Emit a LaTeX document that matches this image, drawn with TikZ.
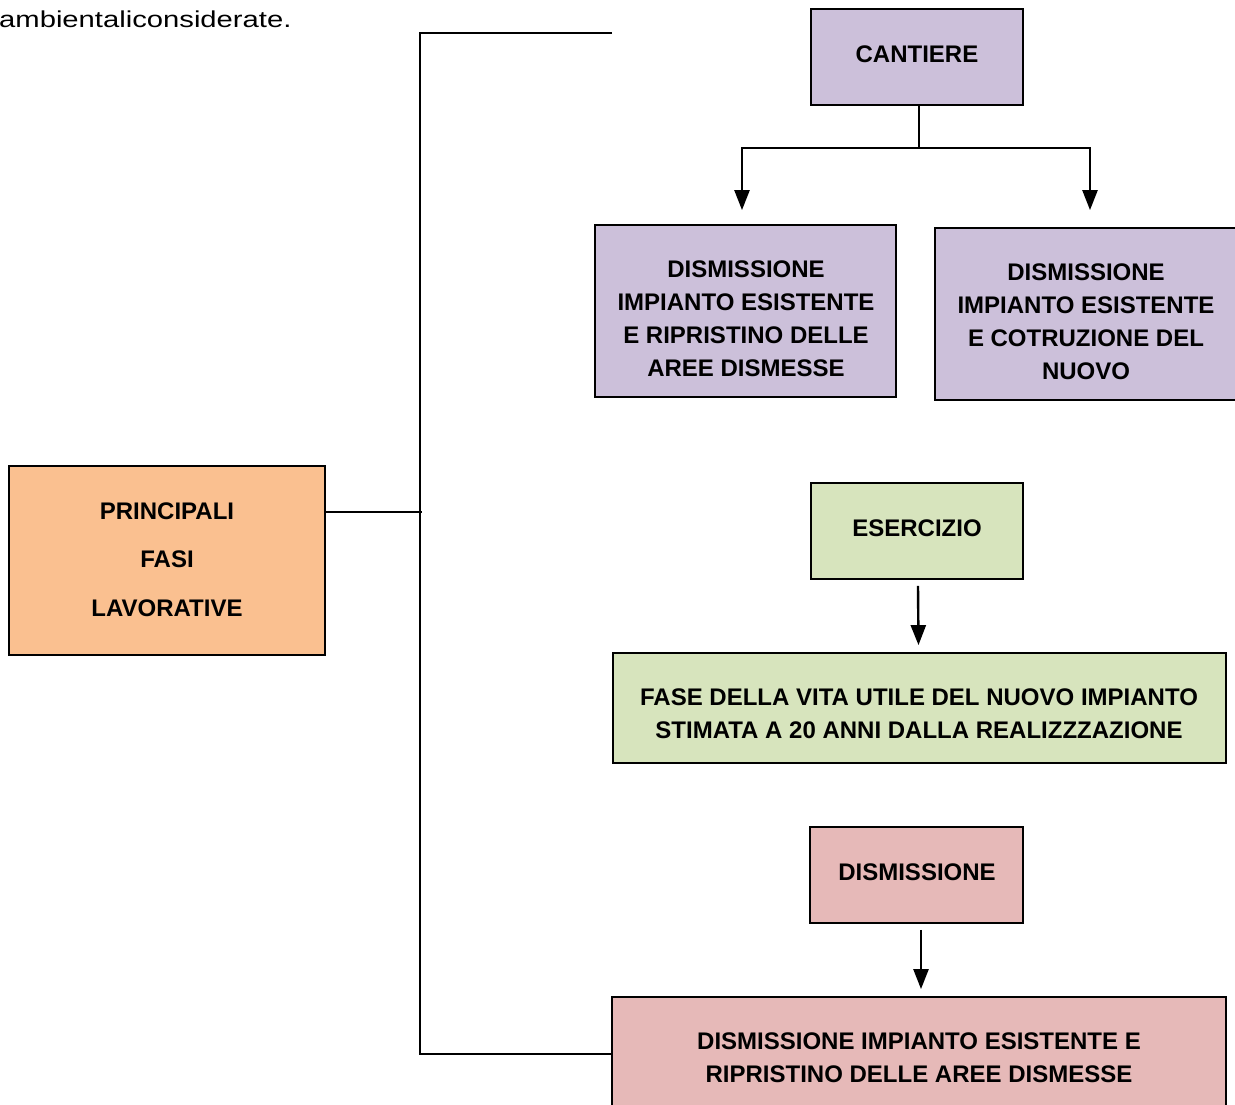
\documentclass[tikz,border=0pt]{standalone}
\usepackage{fontspec}
\setmainfont{Liberation Sans}
\newfontfamily\introfont[FakeStretch=1.27]{Liberation Sans}
\usetikzlibrary{arrows.meta,calc}
\definecolor{lav}{HTML}{CCC0DA}
\definecolor{grn}{HTML}{D7E4BD}
\definecolor{rose}{HTML}{E6B9B8}
\definecolor{orng}{HTML}{FAC090}
\tikzset{
  box/.style={draw=black, line width=1.8pt, inner sep=0pt},
  txt/.style={inner sep=0pt, align=center, text depth=0pt,
    font=\bfseries\fontsize{24}{33}\selectfont},
  link/.style={line width=2.6pt},
  arr/.style={line width=2.4pt, -{Triangle[width=15pt,length=20pt]}},
}
\begin{document}
\begin{tikzpicture}[x=1pt,y=-1pt]
\useasboundingbox (0,0) rectangle (1235,1104);
\clip (0,0) rectangle (1235,1104);
\node[anchor=base west, inner sep=0pt, font=\introfont\fontsize{23}{28}\selectfont] (intro) at (-1,27) {ambientaliconsiderate.};

\node[box, fill=lav, minimum width=212pt, minimum height=96pt] (cant) at (917,57) {};
\node[txt] (cantt) at (917,54) {CANTIERE};
\node[box, fill=lav, minimum width=301pt, minimum height=172pt] (d1) at (745.5,311) {};
\node[txt] (d1t) at (746,319) {DISMISSIONE\\IMPIANTO ESISTENTE\\E RIPRISTINO DELLE\\AREE DISMESSE};
\node[box, fill=lav, minimum width=305pt, minimum height=172pt] (d2) at (1087.5,314) {};
\node[txt] (d2t) at (1086,322) {DISMISSIONE\\IMPIANTO ESISTENTE\\E COTRUZIONE DEL\\NUOVO};

\node[box, fill=grn, minimum width=212pt, minimum height=96pt] (eser) at (917,531) {};
\node[txt] (esert) at (917,528) {ESERCIZIO};
\node[box, fill=grn, minimum width=613pt, minimum height=110pt] (fase) at (919.5,708) {};
\node[txt] (faset) at (919,713.5) {FASE DELLA VITA UTILE DEL NUOVO IMPIANTO\\STIMATA A 20 ANNI DALLA REALIZZZAZIONE};

\node[box, fill=rose, minimum width=213pt, minimum height=96pt] (dism) at (916.5,875) {};
\node[txt] (dismt) at (917,872) {DISMISSIONE};
\node[box, fill=rose, minimum width=614pt, minimum height=126pt] (bot) at (919,1060) {};
\node[txt] (bott) at (919,1057.5) {DISMISSIONE IMPIANTO ESISTENTE E\\RIPRISTINO DELLE AREE DISMESSE};

\node[box, fill=orng, minimum width=316pt, minimum height=189pt] (princ) at (167,560.5) {};
\node[txt, font=\bfseries\fontsize{24}{48.5}\selectfont] (princt) at (167,559.5) {PRINCIPALI\\FASI\\LAVORATIVE};

% bracket
\coordinate (bt) at (420,33);
\coordinate (bb) at (420,1054);
\coordinate (tend) at (612,33);
\coordinate (pm) at (422,512);
\draw[link] (tend) -- (bt) -- (bb) -- (bb -| bot.west);
\draw[link] (pm -| princ.east) -- (pm);

% cantiere split
\coordinate (sp) at (919,148);
\draw[link, line width=2pt] (cant.south -| sp) -- (sp);
\draw[arr] (sp) -| ($(d1.north)+(-3.5,-14)$);
\draw[arr] (sp) -| ($(d2.north)+(2.5,-17)$);

\draw[arr] ($(eser.south)+(1,6)$) -- ($(fase.north)+(-1,-7)$);
\draw[arr] ($(dism.south)+(4.5,6)$) -- ($(bot.north)+(2,-7)$);
\end{tikzpicture}
\end{document}
